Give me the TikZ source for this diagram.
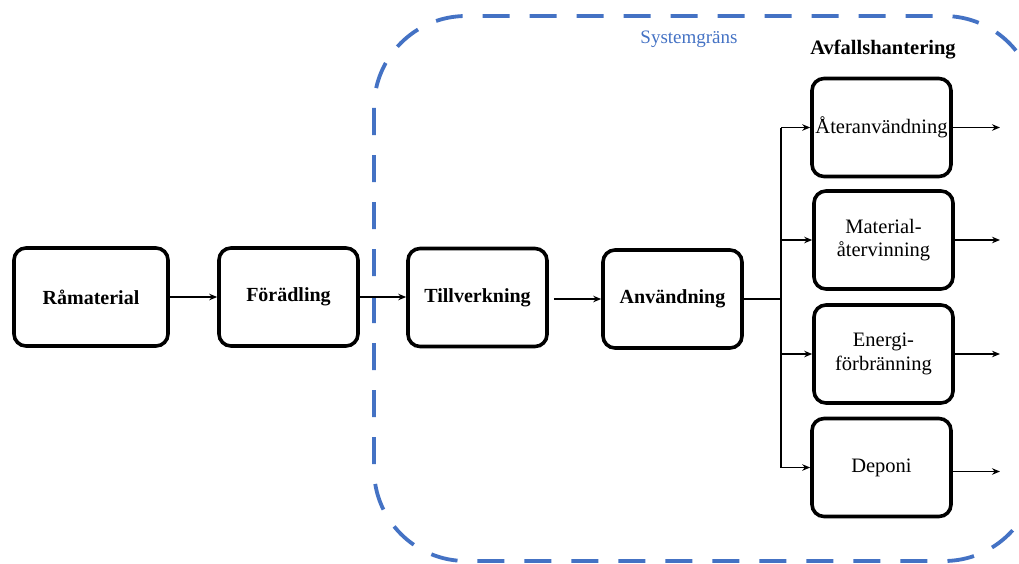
\documentclass[tikz,border=0pt]{standalone}
\usepackage{fontspec}
\setmainfont{Liberation Serif}
\usetikzlibrary{arrows.meta}
\definecolor{sysblue}{RGB}{68,114,196}
\tikzset{
  procbox/.style={draw=black, line width=3.6pt, rounded corners=12pt, fill=white,
    minimum width=139pt, minimum height=98pt, align=center, inner sep=0pt,
    font=\fontsize{20.5}{23.5}\selectfont},
  boldbox/.style={procbox, font=\fontsize{20}{23}\selectfont\bfseries},
  flow/.style={line width=1.4pt, -{Stealth[length=8pt,width=6.5pt]}},
  plainline/.style={line width=1.4pt},
  boundary/.style={draw=sysblue, line width=3.8pt, dash pattern=on 27pt off 20pt, rounded corners=92pt},
}
\begin{document}
\begin{tikzpicture}[x=1pt,y=-1pt]
\useasboundingbox (0,0) rectangle (1019,563);
% system boundary
\draw[boundary] (374,16) rectangle (1036,561);
\node[text=sysblue, font=\fontsize{19}{22}\selectfont] (sys) at (689,39) {Systemgräns};
\node[font=\fontsize{20.5}{24}\selectfont\bfseries] (avf) at (883,50) {Avfallshantering};
% main chain
\node[boldbox, minimum width=154pt] (ram) at (91,297) {Råmaterial};
\node[boldbox] (for) at (288.5,297) {Förädling};
\node[boldbox] (till) at (477.5,297.5) {Tillverkning};
\node[boldbox] (anv) at (672.5,299) {Användning};
% waste handling
\node[procbox] (ater) at (881.5,127.5) {Återanvändning};
\node[procbox] (mat) at (883.5,240) {Material-\\återvinning};
\node[procbox] (ene) at (883.5,354) {Energi-\\förbränning};
\node[procbox] (dep) at (881.5,467.5) {Deponi};
% connectors
\coordinate (vx) at (781,0);
\coordinate (ox) at (1000,0);
\draw[flow] (ram.east) -- (for.west);
\draw[flow] (for.east) -- (for.east -| till.west);
\draw[flow] ([xshift=5pt]till.east |- anv.west) -- (anv.west);
\draw[plainline] (anv.east) -- (anv.east -| vx);
\draw[plainline] (vx |- ater.west) -- (vx |- dep.west);
\draw[flow] (vx |- ater.west) -- (ater.west);
\draw[flow] (vx |- mat.west) -- (mat.west);
\draw[flow] (vx |- ene.west) -- (ene.west);
\draw[flow] (vx |- dep.west) -- (dep.west);
\draw[flow] (ater.east) -- (ater.east -| ox);
\draw[flow] (mat.east) -- (mat.east -| ox);
\draw[flow] (ene.east) -- (ene.east -| ox);
\draw[flow] ([yshift=-4pt]dep.east) -- ([yshift=-4pt]dep.east -| ox);
\end{tikzpicture}
\end{document}
